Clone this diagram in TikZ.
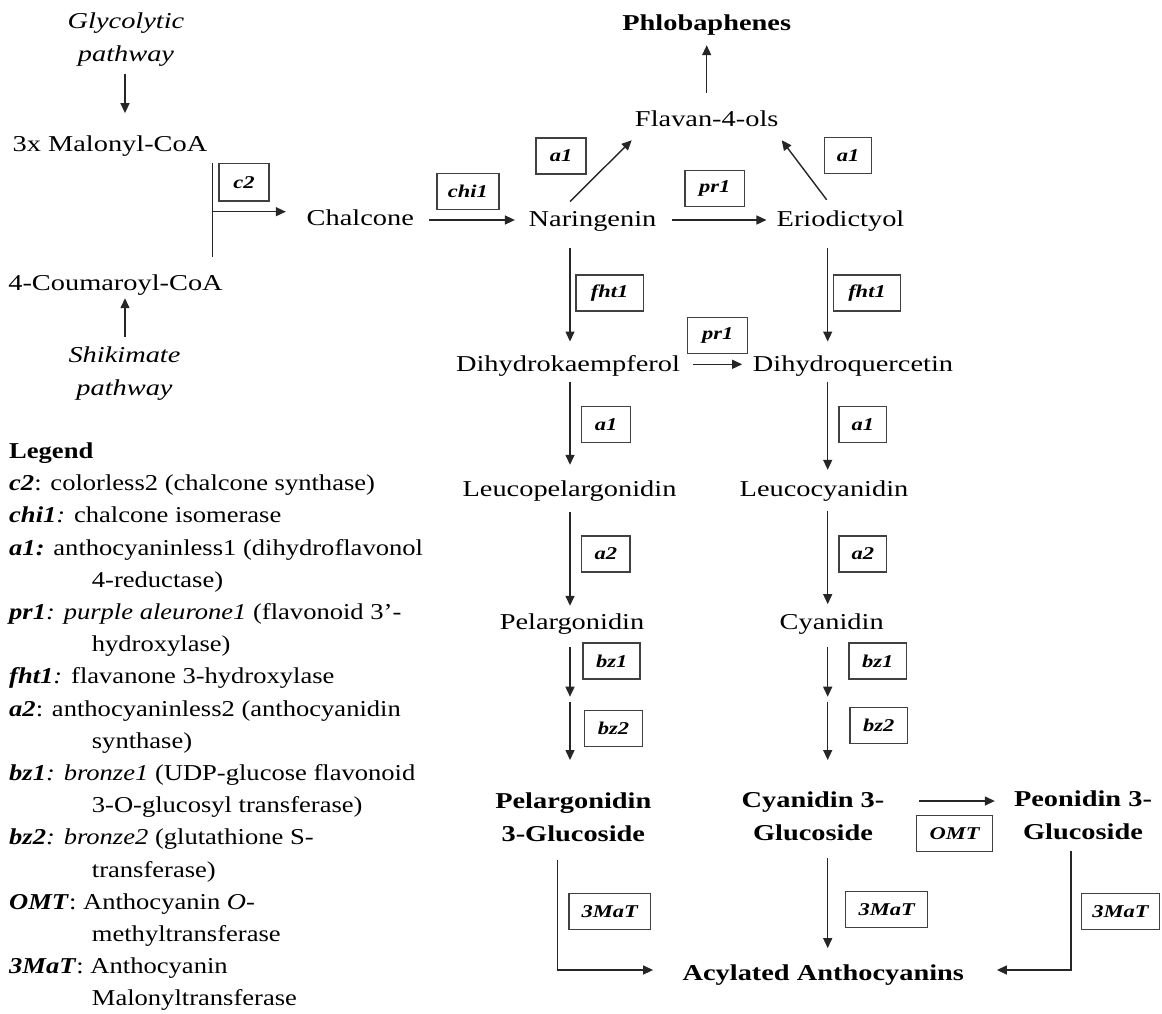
\documentclass[tikz,border=0pt]{standalone}
\usepackage{fontspec}
\setmainfont{Liberation Serif}[FakeStretch=1.25]
\newfontfamily\legendfont{Liberation Serif}[FakeStretch=1.17]
\usetikzlibrary{arrows.meta,calc}
\begin{document}
\begin{tikzpicture}[x=1pt,y=-1pt,
  arr/.style={draw=black!85, line width=1.4pt, -{Triangle[length=10pt,width=9pt]}},
  plain/.style={draw=black!85, line width=1.4pt},
  txt/.style={inner sep=0pt, anchor=base, text height=15.5pt, text depth=4.9pt, font=\fontsize{22.7}{33.4}\selectfont},
  btxt/.style={txt, font=\fontsize{22.7}{33.4}\selectfont\bfseries},
  two/.style={inner sep=0pt, anchor=north, align=center, font=\fontsize{22.7}{33.4}\selectfont},
  twoit/.style={two, font=\fontsize{22.7}{33.4}\selectfont\itshape},
  twobf/.style={two, font=\fontsize{22.7}{33.4}\selectfont\bfseries},
  enz/.style={draw=black!75, line width=1.5pt, inner sep=0pt, minimum width=#1, minimum height=36pt, font=\fontsize{18}{20}\selectfont\bfseries\itshape},
]
\fill[white] (0,0) rectangle (1162,1013);
\useasboundingbox (0,0) rectangle (1162,1013);

% helper coordinates
\coordinate (cA) at (125,0);
\coordinate (cL) at (570,0);
\coordinate (cR) at (827.7,0);
\coordinate (cPL) at (557.7,0);
\coordinate (cPR) at (1071,0);
\coordinate (barT) at (212.7,163.3);
\coordinate (barB) at (212.7,257);
\coordinate (barJ) at (212.7,211.7);
\coordinate (r1) at (0,220);
\coordinate (r2) at (0,364.3);
\coordinate (r3) at (0,801);
\coordinate (r4) at (0,970);
\coordinate (midL) at (570,699.2);
\coordinate (midR) at (827.7,699.2);

% compounds
\node[twoit] (glyco) at (126,4.9) {\strut Glycolytic\\\strut pathway};
\node[txt] (malonyl) at (110,151.7) {3x Malonyl-CoA};
\node[txt] (coum) at (115.5,290) {4-Coumaroyl-CoA};
\node[twoit] (shik) at (124.5,338.6) {\strut Shikimate\\\strut pathway};
\node[txt] (chalcone) at (360.3,225) {Chalcone};
\node[txt] (naring) at (592.5,226.7) {Naringenin};
\node[txt] (erio) at (840.5,226.7) {Eriodictyol};
\node[txt] (flavan) at (706.7,126.7) {Flavan-4-ols};
\node[btxt] (phlob) at (706.7,30.7) {Phlobaphenes};
\node[txt] (dhk) at (568,371.7) {Dihydrokaempferol};
\node[txt] (dhq) at (853,371.7) {Dihydroquercetin};
\node[txt] (leucop) at (569.5,496.7) {Leucopelargonidin};
\node[txt] (leucoc) at (824,496.7) {Leucocyanidin};
\node[txt] (pelarg) at (572,629) {Pelargonidin};
\node[txt] (cyan) at (831.7,629) {Cyanidin};
\node[twobf] (pelG) at (573.3,784.9) {\strut Pelargonidin\\\strut 3-Glucoside};
\node[twobf] (cyaG) at (813,783.6) {\strut Cyanidin 3-\\\strut Glucoside};
\node[twobf] (peoG) at (1083,782.6) {\strut Peonidin 3-\\\strut Glucoside};
\node[btxt] (acyl) at (823.3,980) {Acylated Anthocyanins};

% enzyme boxes
\node[enz=50pt, minimum height=37.7pt] (bc2) at (244,182.2) {c2};
\node[enz=62.3pt] (bchi) at (467.9,191.7) {chi1};
\node[enz=49.7pt] (ba1a) at (561,156) {a1};
\node[enz=59.3pt] (bpr1a) at (714.7,188.7) {pr1};
\node[enz=47.4pt] (ba1b) at (848,155.5) {a1};
\node[enz=67.3pt] (bfhta) at (609.7,293) {fht1};
\node[enz=67.3pt] (bfhtb) at (867,293) {fht1};
\node[enz=60pt] (bpr1b) at (717.7,335.5) {pr1};
\node[enz=49pt] (ba1c) at (606.2,424.3) {a1};
\node[enz=47.7pt] (ba1d) at (862.8,424.3) {a1};
\node[enz=48.3pt] (ba2a) at (605.8,554) {a2};
\node[enz=47.7pt] (ba2b) at (862.8,554) {a2};
\node[enz=57pt] (bbz1a) at (611.7,661) {bz1};
\node[enz=57.7pt] (bbz2a) at (613.5,728.3) {bz2};
\node[enz=57.3pt] (bbz1b) at (877.8,661) {bz1};
\node[enz=57.5pt] (bbz2b) at (878.7,725.3) {bz2};
\node[enz=75.6pt] (bomt) at (954.5,833.3) {OMT};
\node[enz=81.7pt] (b3ma) at (609.8,911.3) {3MaT};
\node[enz=82pt] (b3mb) at (886.7,909.7) {3MaT};
\node[enz=78pt] (b3mc) at (1120.5,911.3) {3MaT};

% connectors
\draw[arr, shorten <=1.6pt, shorten >=22.9pt] (glyco.south -| cA) -- (malonyl.north -| cA);
\draw[arr, shorten <=1.4pt, shorten >=3.1pt] (shik.north -| cA) -- (coum.south -| cA);
\draw[plain] (barT) -- (barB);
\draw[arr, shorten >=20.7pt] (barJ) -- (barJ -| chalcone.west);
\draw[arr, shorten <=15pt, shorten >=13.6pt] (chalcone.east |- r1) -- (naring.west |- r1);
\draw[arr, shorten <=15.3pt, shorten >=10pt] (naring.east |- r1) -- (erio.west |- r1);
\draw[arr] ([shift={(-22.5,-9.5)}]naring.north) -- ([shift={(-75,8.4)}]flavan.south);
\draw[arr] ([shift={(-13.8,-11.2)}]erio.north) -- ([shift={(75,8.4)}]flavan.south);
\draw[arr, shorten <=18.2pt, shorten >=9.4pt] (flavan.north) -- (phlob.south);
\draw[arr, shorten <=16.4pt, shorten >=14.5pt] (naring.south -| cL) -- (dhk.north -| cL);
\draw[arr, shorten <=16.4pt, shorten >=14.5pt] (erio.south -| cR) -- (dhq.north -| cR);
\draw[arr, shorten <=13.3pt, shorten >=10.6pt] (dhk.east |- r2) -- (dhq.west |- r2);
\draw[arr, shorten <=5.1pt, shorten >=16.2pt] (dhk.south -| cL) -- (leucop.north -| cL);
\draw[arr, shorten <=5.1pt, shorten >=11.2pt] (dhq.south -| cR) -- (leucoc.north -| cR);
\draw[arr, shorten <=10.1pt, shorten >=7.5pt] (leucop.south -| cL) -- (pelarg.north -| cL);
\draw[arr, shorten <=9.1pt, shorten >=9.2pt] (leucoc.south -| cR) -- (cyan.north -| cR);
\draw[arr, shorten <=12.8pt, shorten >=2.5pt] (pelarg.south -| cL) -- (midL);
\draw[arr, shorten <=2.5pt, shorten >=24.9pt] (midL) -- (pelG.north -| cL);
\draw[arr, shorten <=12.8pt, shorten >=2.5pt] (cyan.south -| cR) -- (midR);
\draw[arr, shorten <=2.5pt, shorten >=23.6pt] (midR) -- (cyaG.north -| cR);
\draw[arr, shorten <=34.7pt, shorten >=19pt] (cyaG.east |- r3) -- (peoG.west |- r3);
\draw[arr, shorten <=7.6pt, shorten >=29.3pt] (pelG.south -| cPL) |- (acyl.west |- r4);
\draw[arr, shorten <=7.3pt, shorten >=16.2pt] (cyaG.south -| cR) -- (acyl.north -| cR);
\draw[arr, shorten <=1.6pt, shorten >=32.7pt] (peoG.south -| cPR) |- (acyl.east |- r4);

% legend
\node[inner sep=0pt, anchor=north west, align=left, font=\legendfont\fontsize{22.7}{32.2}\selectfont] (legend) at (9,435.8) {%
\strut\textbf{Legend}\\
\textbf{\textit{c2}}: colorless2 (chalcone synthase)\\
\textbf{\textit{chi1}}\textit{:} chalcone isomerase\\
\textbf{\textit{a1:}} anthocyaninless1 (dihydroflavonol\\
\hspace*{82.7pt}4-reductase)\\
\textbf{\textit{pr1}}\textit{: purple aleurone1} (flavonoid 3’-\\
\hspace*{82.7pt}hydroxylase)\\
\textbf{\textit{fht1}}\textit{:} flavanone 3-hydroxylase\\
\textbf{\textit{a2}}: anthocyaninless2 (anthocyanidin\\
\hspace*{82.7pt}synthase)\\
\textbf{\textit{bz1}}\textit{: bronze1} (UDP-glucose flavonoid\\
\hspace*{82.7pt}3-O-glucosyl transferase)\\
\textbf{\textit{bz2}}\textit{: bronze2} (glutathione S-\\
\hspace*{82.7pt}transferase)\\
\textbf{\textit{OMT}}: Anthocyanin \textit{O}-\\
\hspace*{82.7pt}methyltransferase\\
\textbf{\textit{3MaT}}: Anthocyanin\\
\hspace*{82.7pt}Malonyltransferase};
\end{tikzpicture}
\end{document}
